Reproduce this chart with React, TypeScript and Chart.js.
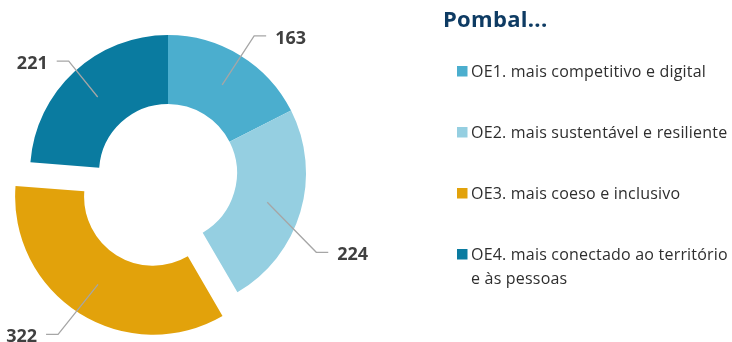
import React, { useEffect, useRef } from "react";
import { Chart, ArcElement, DoughnutController } from "chart.js";

Chart.register(ArcElement, DoughnutController);

// Strategic objectives (legend entries, split into display lines)
const categories: string[][] = [
  ["OE1. mais competitivo e digital"],
  ["OE2. mais sustentável e resiliente"],
  ["OE3. mais coeso e inclusivo"],
  ["OE4. mais conectado ao território", "e às pessoas"],
];
const values: number[] = [163, 224, 322, 221];
const colors: string[] = ["#4BAECE", "#95CFE1", "#E2A20B", "#0A7BA0"];
const chartTitle = "Pombal...";

const FONT = '"Open Sans", "Noto Sans", sans-serif';

// Pulls one slice away from the centre along its bisector.
const explodePlugin = {
  id: "explodeSlice",
  afterDatasetsUpdate(chart: any, _args: any, opts: any) {
    const el: any = chart.getDatasetMeta(0).data[opts.index];
    if (!el) return;
    const mid = (el.startAngle + el.endAngle) / 2;
    el.x += Math.cos(mid) * opts.distance;
    el.y += Math.sin(mid) * opts.distance;
  },
};

// Value labels with elbow leader lines.
const calloutPlugin = {
  id: "callouts",
  afterDatasetsDraw(chart: any, _args: any, opts: any) {
    const ctx: CanvasRenderingContext2D = chart.ctx;
    const meta = chart.getDatasetMeta(0);
    const data = chart.data.datasets[0].data;
    ctx.save();
    meta.data.forEach((arc: any, i: number) => {
      const p = arc.tooltipPosition(false);
      const [dx, dy] = opts.elbows[i];
      const ex = p.x + dx;
      const ey = p.y + dy;
      const dir = dx >= 0 ? 1 : -1;
      const lx = ex + dir * opts.tail;
      ctx.strokeStyle = opts.lineColor;
      ctx.lineWidth = 1.3;
      ctx.beginPath();
      ctx.moveTo(p.x, p.y);
      ctx.lineTo(ex, ey);
      ctx.lineTo(lx, ey);
      ctx.stroke();
      ctx.font = `bold 18px ${FONT}`;
      ctx.fillStyle = opts.color;
      ctx.textAlign = dir > 0 ? "left" : "right";
      ctx.textBaseline = "alphabetic";
      ctx.fillText(String(data[i]), lx + dir * opts.gap, ey + opts.baselineShift);
    });
    ctx.restore();
  },
};

// Title and legend drawn in the right-hand panel.
const panelPlugin = {
  id: "sidePanel",
  afterDraw(chart: any, _args: any, opts: any) {
    const ctx: CanvasRenderingContext2D = chart.ctx;
    ctx.save();
    ctx.textAlign = "left";
    ctx.textBaseline = "alphabetic";
    ctx.fillStyle = opts.titleColor;
    ctx.font = `bold 22px ${FONT}`;
    (ctx as any).letterSpacing = "0.3px";
    ctx.fillText(opts.title, opts.x, opts.titleBaseline);
    (ctx as any).letterSpacing = "0.2px";
    ctx.font = `16px ${FONT}`;
    opts.items.forEach((lines: string[], i: number) => {
      const base = opts.firstBaseline + i * opts.rowGap;
      ctx.fillStyle = opts.colors[i];
      ctx.fillRect(opts.boxX, base - opts.boxSize, opts.boxSize, opts.boxSize);
      ctx.fillStyle = opts.textColor;
      lines.forEach((line, j) => {
        ctx.fillText(line, opts.textX, base + j * opts.lineHeight);
      });
    });
    ctx.restore();
  },
};

export default function App() {
  const canvasRef = useRef<HTMLCanvasElement | null>(null);

  useEffect(() => {
    const canvas = canvasRef.current;
    if (!canvas) return;
    const chart = new Chart(canvas, {
      type: "doughnut",
      data: {
        labels: categories.map((l) => l.join(" ")),
        datasets: [
          {
            data: values,
            backgroundColor: colors,
            borderWidth: 0,
          },
        ],
      },
      options: {
        responsive: false,
        devicePixelRatio: 1,
        animation: false,
        radius: 138,
        cutout: "50%",
        layout: { padding: { left: 0, right: 396, top: 4, bottom: 0 } },
        plugins: {
          legend: { display: false },
          tooltip: { enabled: false },
          explodeSlice: { index: 2, distance: 28 },
          callouts: {
            elbows: [
              [32, -49],
              [49, 50],
              [-40, 50],
              [-29, -36],
            ],
            tail: 12,
            gap: 9,
            baselineShift: 8,
            lineColor: "#A6A6A6",
            color: "#404040",
          },
          sidePanel: {
            title: chartTitle,
            titleColor: "#0E3B63",
            titleBaseline: 27,
            x: 443,
            items: categories,
            colors,
            textColor: "#2E2E2E",
            boxX: 457,
            boxSize: 10.5,
            textX: 471,
            firstBaseline: 76.5,
            rowGap: 61,
            lineHeight: 24,
          },
        } as any,
      },
      plugins: [explodePlugin, calloutPlugin, panelPlugin],
    });
    return () => chart.destroy();
  }, []);

  return (
    <div style={{ position: "fixed", left: 0, top: 0, width: 732, height: 342, background: "#fff" }}>
      <canvas ref={canvasRef} width={732} height={342} style={{ display: "block" }} />
    </div>
  );
}
